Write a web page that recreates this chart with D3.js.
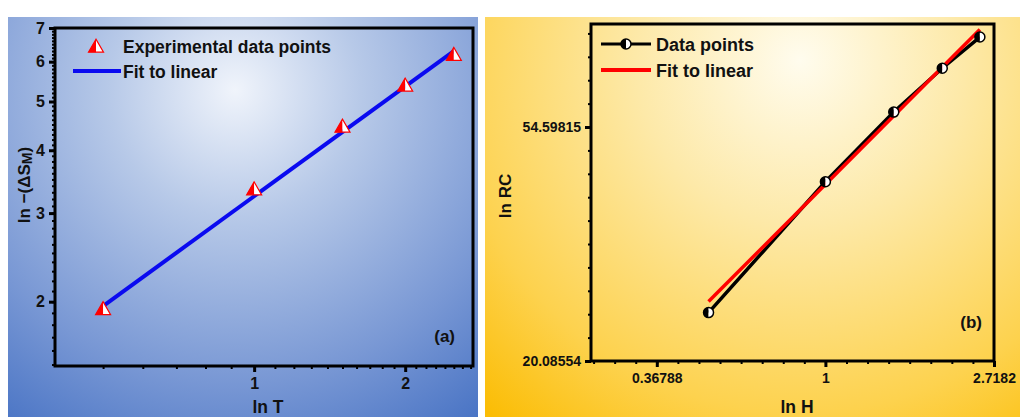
<!DOCTYPE html>
<html>
<head>
<meta charset="utf-8">
<script src="https://cdn.jsdelivr.net/npm/d3@7"></script>
<style>
  body { margin: 0; background: #fff; }
  svg { display: block; font-family: "Liberation Sans", Arial, sans-serif; font-weight: bold; }
</style>
</head>
<body>
<svg id="chart" width="1020" height="417"></svg>
<script>
// panel (a): ln -(dSM) vs ln T
const tempX = [0.5, 1.0, 1.5, 2.0, 2.5];
const entropyY = [1.93, 3.34, 4.45, 5.37, 6.18];
const fitAX = [0.5, 2.5];
const fitAY = [1.96, 6.30];
const aMajorY = [2, 3, 4, 5, 6, 7];
const aMajorX = [1, 2];

// panel (b): ln RC vs ln H
const fieldX = [0.5, 1.0, 1.5, 2.0, 2.5];
const rcY = [24.7, 43.2, 58.2, 70.2, 80.2];
const fitBX = [0.5, 2.5];
const fitBY = [25.9, 82.8];
const bMajorY = [20.08554, 54.59815];
const bMajorX = [0.36788, 1, 2.71828];
const bLabelX = ["0.36788", "1", "2.7182"];

const svg = d3.select("#chart");
const defs = svg.append("defs");

function radial(id, cx, cy, r, stops) {
  const g = defs.append("radialGradient").attr("id", id)
    .attr("gradientUnits", "userSpaceOnUse")
    .attr("cx", cx).attr("cy", cy).attr("r", r);
  stops.forEach(s => g.append("stop").attr("offset", s[0]).attr("stop-color", s[1]));
}
radial("bgA", 235, 90, 420, [[0, "#f0f4fb"], [0.3, "#b7c9e8"], [0.7, "#7897d4"], [1, "#4470c3"]]);
radial("bgB", 800, 60, 470, [[0, "#fffcee"], [0.35, "#fde9a8"], [0.75, "#fdd24e"], [1, "#fbbd05"]]);

svg.append("rect").attr("x", 8).attr("y", 17).attr("width", 470).attr("height", 400).attr("fill", "url(#bgA)");
svg.append("rect").attr("x", 485).attr("y", 17).attr("width", 535).attr("height", 400).attr("fill", "url(#bgB)");

function seq(a, b, step) {
  const out = [];
  for (let v = a; v <= b + 1e-9; v += step) out.push(+v.toFixed(4));
  return out;
}

function frameAndAxes(g, x, y, o) {
  const [x0, x1] = x.range();
  const [y0, y1] = y.range();
  // minor ticks
  g.append("g").attr("transform", `translate(0,${y0})`)
    .call(d3.axisBottom(x).tickValues(o.minorX).tickSize(3).tickSizeOuter(0).tickFormat(""))
    .call(a => a.select(".domain").remove())
    .selectAll("line").attr("stroke", "#000").attr("stroke-width", 2);
  g.append("g").attr("transform", `translate(${x0},0)`)
    .call(d3.axisLeft(y).tickValues(o.minorY).tickSize(3).tickSizeOuter(0).tickFormat(""))
    .call(a => a.select(".domain").remove())
    .selectAll("line").attr("stroke", "#000").attr("stroke-width", 2);
  // major ticks
  const ax = g.append("g").attr("transform", `translate(0,${y0})`)
    .call(d3.axisBottom(x).tickValues(o.majorX).tickSize(6).tickSizeOuter(0).tickPadding(6)
      .tickFormat((d, i) => o.labelX[i]));
  const ay = g.append("g").attr("transform", `translate(${x0},0)`)
    .call(d3.axisLeft(y).tickValues(o.majorY).tickSize(6).tickSizeOuter(0).tickPadding(4)
      .tickFormat((d, i) => o.labelY[i]));
  [ax, ay].forEach(a => {
    a.select(".domain").remove();
    a.selectAll("line").attr("stroke", "#000").attr("stroke-width", 3);
    a.selectAll("text").attr("fill", "#111").attr("font-size", o.tickFont)
      .attr("font-family", "Liberation Sans, Arial, sans-serif").attr("font-weight", "bold");
  });
  g.append("rect").attr("x", x0).attr("y", y1).attr("width", x1 - x0).attr("height", y0 - y1)
    .attr("fill", "none").attr("stroke", "#000").attr("stroke-width", 3);
}

// ---------- panel (a)
const gA = svg.append("g");
const xA = d3.scaleLog().domain([0.401, 2.73]).range([55, 473]);
const yA = d3.scaleLog().domain([1.49, 7]).range([366, 28]);

frameAndAxes(gA, xA, yA, {
  minorX: seq(0.5, 0.9, 0.1).concat(seq(1.1, 1.9, 0.1), seq(2.1, 2.7, 0.1)),
  minorY: seq(1.5, 7, 0.1),
  majorX: aMajorX, labelX: aMajorX.map(String),
  majorY: aMajorY, labelY: aMajorY.map(String),
  tickFont: 16
});

gA.append("line")
  .attr("x1", xA(fitAX[0])).attr("y1", yA(fitAY[0]))
  .attr("x2", xA(fitAX[1])).attr("y2", yA(fitAY[1]))
  .attr("stroke", "#0a0af0").attr("stroke-width", 4);

function triangle(g, cx, cy) {
  const w = 7.5, h = 13;
  const t = g.append("g").attr("transform", `translate(${cx},${cy})`);
  t.append("path").attr("d", `M0,${-h * 0.6}L${-w},${h * 0.4}L0,${h * 0.4}Z`).attr("fill", "#f00");
  t.append("path").attr("d", `M0,${-h * 0.6}L${w},${h * 0.4}L0,${h * 0.4}Z`).attr("fill", "#fff");
  t.append("path").attr("d", `M0,${-h * 0.6}L${-w},${h * 0.4}L${w},${h * 0.4}Z`)
    .attr("fill", "none").attr("stroke", "#f00").attr("stroke-width", 1.2);
}
tempX.forEach((d, i) => triangle(gA, xA(d), yA(entropyY[i])));

triangle(gA, 96, 47);
gA.append("text").attr("x", 123).attr("y", 53).attr("font-size", 17.5).attr("fill", "#111")
  .text("Experimental data points");
gA.append("line").attr("x1", 73).attr("x2", 121).attr("y1", 71).attr("y2", 71)
  .attr("stroke", "#0a0af0").attr("stroke-width", 4);
gA.append("text").attr("x", 123).attr("y", 78).attr("font-size", 17.5).attr("fill", "#111")
  .text("Fit to linear");
gA.append("text").attr("x", 455).attr("y", 342).attr("text-anchor", "end").attr("font-size", 17)
  .attr("fill", "#111").text("(a)");

const titleA = gA.append("text").attr("transform", "translate(30,185) rotate(-90)")
  .attr("text-anchor", "middle").attr("font-size", 17).attr("fill", "#111");
titleA.append("tspan").text("ln −(ΔS");
titleA.append("tspan").attr("font-size", 14).attr("dy", 2).text("M");
titleA.append("tspan").attr("dy", -2).text(")");
gA.append("text").attr("x", 268).attr("y", 413).attr("text-anchor", "middle").attr("font-size", 17.5)
  .attr("fill", "#111").text("ln T");

// ---------- panel (b)
const gB = svg.append("g");
const xB = d3.scaleLog().domain([0.249, 2.71828]).range([591, 994]);
const yB = d3.scaleLog().domain([20.08554, 84.8]).range([361, 24]);

frameAndAxes(gB, xB, yB, {
  minorX: seq(-1.375, 1, 0.125).map(v => Math.exp(v)),
  minorY: seq(3.1, 4.4, 0.1).map(v => Math.exp(v)),
  majorX: bMajorX, labelX: bLabelX,
  majorY: bMajorY, labelY: bMajorY.map(d => d.toFixed(5)),
  tickFont: 14
});

const fitLine = d3.line().x(d => xB(d[0])).y(d => yB(d[1]));
gB.append("path").datum(fieldX.map((d, i) => [d, rcY[i]])).attr("d", fitLine)
  .attr("fill", "none").attr("stroke", "#000").attr("stroke-width", 3.5);
gB.append("path").datum(fitBX.map((d, i) => [d, fitBY[i]])).attr("d", fitLine)
  .attr("fill", "none").attr("stroke", "#f00").attr("stroke-width", 3.5);

function halfDot(g, cx, cy) {
  const r = 5;
  const c = g.append("g").attr("transform", `translate(${cx},${cy})`);
  c.append("path").attr("d", `M0,${-r}A${r},${r} 0 0 0 0,${r}Z`).attr("fill", "#000");
  c.append("path").attr("d", `M0,${-r}A${r},${r} 0 0 1 0,${r}Z`).attr("fill", "#fff");
  c.append("circle").attr("r", r).attr("fill", "none").attr("stroke", "#000").attr("stroke-width", 1.5);
}
fieldX.forEach((d, i) => halfDot(gB, xB(d), yB(rcY[i])));

gB.append("line").attr("x1", 601).attr("x2", 651).attr("y1", 44).attr("y2", 44)
  .attr("stroke", "#000").attr("stroke-width", 3);
halfDot(gB, 626, 44);
gB.append("text").attr("x", 656).attr("y", 51).attr("font-size", 18).attr("fill", "#111").text("Data points");
gB.append("line").attr("x1", 601).attr("x2", 651).attr("y1", 70).attr("y2", 70)
  .attr("stroke", "#f00").attr("stroke-width", 4);
gB.append("text").attr("x", 656).attr("y", 77).attr("font-size", 18).attr("fill", "#111").text("Fit to linear");
gB.append("text").attr("x", 982).attr("y", 328).attr("text-anchor", "end").attr("font-size", 17)
  .attr("fill", "#111").text("(b)");

gB.append("text").attr("transform", "translate(511,196) rotate(-90)")
  .attr("text-anchor", "middle").attr("font-size", 17).attr("fill", "#111").text("ln RC");
gB.append("text").attr("x", 797).attr("y", 413).attr("text-anchor", "middle").attr("font-size", 17.5)
  .attr("fill", "#111").text("ln H");
</script>
</body>
</html>
